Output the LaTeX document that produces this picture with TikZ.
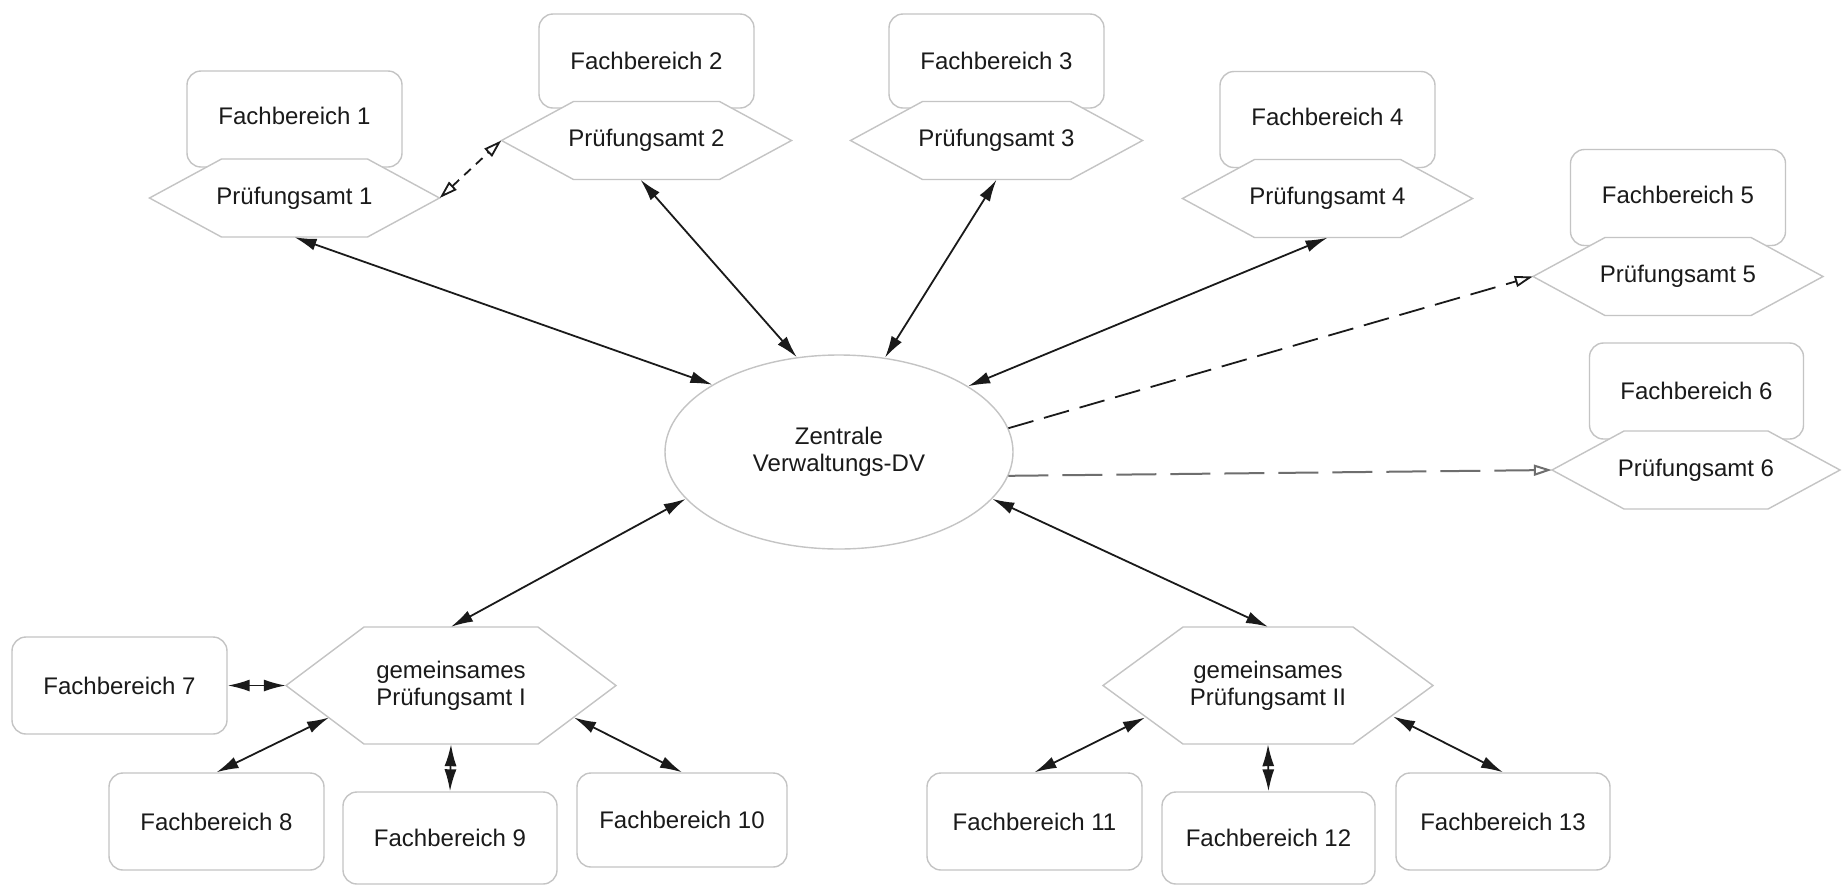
\documentclass[tikz,border=0pt]{standalone}
\usepackage{fontspec}
\setmainfont{Liberation Sans}
\usetikzlibrary{arrows.meta,calc,shapes.geometric}

\definecolor{rimgray}{HTML}{C4C4C4}
\definecolor{inkblack}{HTML}{1A1A1A}
\definecolor{dashgray}{HTML}{6E6E6E}

% hexagon: name, centre x, centre y, width, height, slant, text
\newcommand{\drawhex}[7]{%
  \path[hexline] ({#2-#4/2},#3) -- ({#2-#4/2+#6},{#3-#5/2}) -- ({#2+#4/2-#6},{#3-#5/2})
    -- ({#2+#4/2},#3) -- ({#2+#4/2-#6},{#3+#5/2}) -- ({#2-#4/2+#6},{#3+#5/2}) -- cycle;
  \node[hextext, minimum width=#4pt, minimum height=#5pt] (#1) at (#2,#3) {#7};
}

\begin{document}
\begin{tikzpicture}[x=1pt,y=-1pt,
  labelfont/.style={font=\fontsize{24}{27}\selectfont, text=inkblack},
  fbbox/.style={labelfont, draw=rimgray, line width=1.4pt, fill=white,
    rounded corners=14pt, inner sep=0pt, minimum width=215pt, minimum height=96pt},
  fbtop/.style={fbbox, text depth=6pt},
  hexline/.style={draw=rimgray, line width=1.4pt, fill=white},
  hextext/.style={labelfont, inner sep=0pt, align=center},
  hub/.style={labelfont, ellipse, draw=rimgray, line width=1.4pt, fill=white,
    inner sep=0pt, minimum width=348pt, minimum height=194pt, align=center},
  conn/.style={line width=1.8pt, draw=inkblack,
    arrows={Latex[length=22pt,width=12pt]-Latex[length=22pt,width=12pt]}},
  feed/.style={line width=1.8pt, draw=inkblack, dash pattern=on 26pt off 11pt,
    arrows={-Triangle[open,length=18pt,width=11pt,fill=white]}},
  feedgray/.style={line width=2pt, draw=dashgray, dash pattern=on 40pt off 14pt,
    arrows={-Triangle[open,length=18pt,width=11pt,fill=white]}},
  peer/.style={line width=1.8pt, draw=inkblack, dash pattern=on 9pt off 7pt,
    arrows={Triangle[open,length=18pt,width=11pt,fill=white]-Triangle[open,length=18pt,width=11pt,fill=white]}}
]
\fill[white] (0,0) rectangle (1842,887);
\useasboundingbox (0,0) rectangle (1842,887);

% departments above their examination offices
\node[fbtop] (fb1) at (294.5,119) {Fachbereich 1};
\node[fbbox, minimum height=94pt] (fb2) at (646.5,61) {Fachbereich 2};
\node[fbbox, minimum height=94pt] (fb3) at (996.5,61) {Fachbereich 3};
\node[fbtop] (fb4) at (1327.5,119.5) {Fachbereich 4};
\node[fbtop] (fb5) at (1678,197.5) {Fachbereich 5};
\node[fbbox, minimum width=214pt] (fb6) at (1696.5,391) {Fachbereich 6};

% examination offices
\drawhex{h1}{294.5}{198}{290}{78}{72}{Prüfungsamt 1}
\drawhex{h2}{646.5}{140.5}{290}{78}{72}{Prüfungsamt 2}
\drawhex{h3}{996.5}{140.5}{292}{78}{72}{Prüfungsamt 3}
\drawhex{h4}{1327.5}{198.5}{290}{78}{72}{Prüfungsamt 4}
\drawhex{h5}{1678}{276.5}{290}{78}{72}{Prüfungsamt 5}
\drawhex{h6}{1696}{470}{288}{78}{72}{Prüfungsamt 6}

% central administration
\node[hub] (ell) at (839,452) {Zentrale\\Verwaltungs-DV};

% shared examination offices
\drawhex{hI}{451}{685.5}{330}{117}{78}{gemeinsames\\Prüfungsamt I}
\drawhex{hII}{1268}{685.5}{330}{117}{80}{gemeinsames\\Prüfungsamt II}

% departments served by the shared offices
\node[fbbox, minimum height=97pt] (fb7) at (119.5,685.5) {Fachbereich 7};
\node[fbbox, minimum height=97pt] (fb8) at (216.5,821.5) {Fachbereich 8};
\node[fbbox, minimum width=214pt, minimum height=92pt] (fb9) at (450,838) {Fachbereich 9};
\node[fbbox, minimum width=210pt, minimum height=94pt] (fb10) at (682,820) {Fachbereich 10};
\node[fbbox, minimum height=97pt] (fb11) at (1034.5,821.5) {Fachbereich 11};
\node[fbbox, minimum width=213pt, minimum height=92pt] (fb12) at (1268.5,838) {Fachbereich 12};
\node[fbbox, minimum width=214pt, minimum height=97pt] (fb13) at (1503,821.5) {Fachbereich 13};

% links to the central administration
\draw[conn] (h1.south) -- (ell.152.6);
\draw[conn] ($(h2.south)+(-6,0)$) -- (ell.114);
\draw[conn] (h3.south) -- (ell.64);
\draw[conn] (h4.south) -- (ell.27.4);
\draw[feed] (ell.8.6) -- (h5.west);
\draw[feedgray] (ell.-8) -- (h6.west);
\draw[peer] (h1.east) -- (h2.west);
\draw[conn] (ell.197.5) -- (hI.north);
\draw[conn] (ell.-17) -- (hII.north);

% links inside the shared offices
\draw[conn] (fb7.east) -- (hI.west);
\draw[conn] (fb8.north) -- ($(hI)+(-122,32)$);
\draw[conn] (fb9.north) -- (hI.south);
\draw[conn] (fb10.north) -- ($(hI)+(123,32)$);
\draw[conn] (fb11.north) -- ($(hII)+(-123,32)$);
\draw[conn] (fb12.north) -- (hII.south);
\draw[conn] (fb13.north) -- ($(hII)+(125,31)$);
\end{tikzpicture}
\end{document}
